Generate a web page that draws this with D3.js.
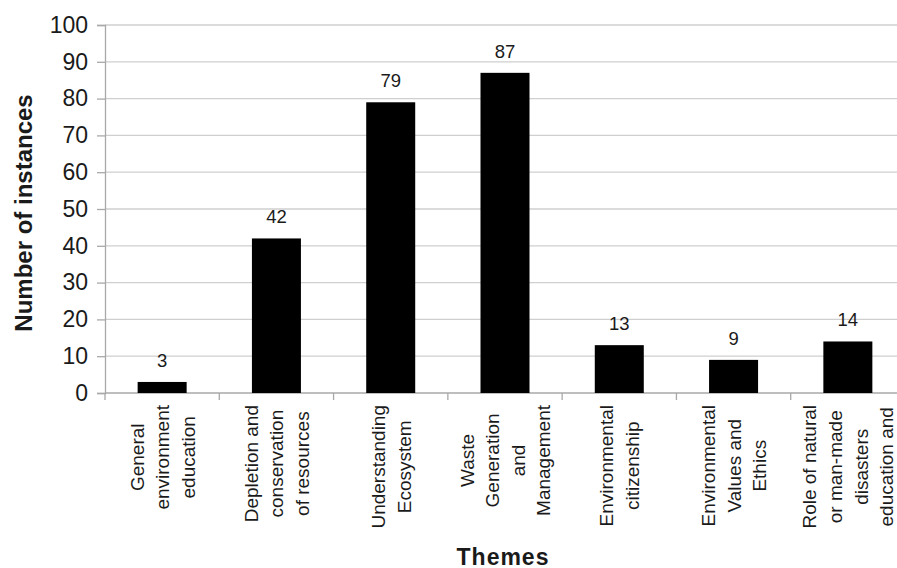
<!DOCTYPE html>
<html>
<head>
<meta charset="utf-8">
<script src="https://cdn.jsdelivr.net/npm/d3@7"></script>
<style>
  body { margin: 0; background: #fff; overflow: hidden; }
  text { font-family: Arial, "Liberation Sans", sans-serif; fill: #1a1a1a; }
</style>
</head>
<body>
<script>
// DATA
var themes = [
  ['General', 'environment', 'education'],
  ['Depletion and', 'conservation', 'of resources'],
  ['Understanding', 'Ecosystem'],
  ['Waste', 'Generation', 'and', 'Management'],
  ['Environmental', 'citizenship'],
  ['Environmental', 'Values and', 'Ethics'],
  ['Role of natural', 'or man-made', 'disasters', 'education and']
];
var instances = [3, 42, 79, 87, 13, 9, 14];
var yTicks = [0, 10, 20, 30, 40, 50, 60, 70, 80, 90, 100];

var svgWidth = 897, svgHeight = 568;
var plotLeft = 105, plotRight = 905, plotTop = 25, plotBottom = 393;

var svg = d3.select('body').append('svg')
  .attr('width', svgWidth)
  .attr('height', svgHeight);

var x = d3.scaleBand()
  .domain(d3.range(themes.length))
  .range([plotLeft, plotRight])
  .padding(0);
var y = d3.scaleLinear()
  .domain([0, 100])
  .range([plotBottom, plotTop]);

var barW = 49;

// gridlines
svg.selectAll('line.grid')
  .data(yTicks.slice(1))
  .enter()
  .append('line')
  .attr('class', 'grid')
  .attr('x1', plotLeft).attr('x2', svgWidth)
  .attr('y1', function(d) { return y(d); })
  .attr('y2', function(d) { return y(d); })
  .attr('stroke', '#cfcfcf')
  .attr('stroke-width', 1.3);

// y axis
var yAxis = svg.append('g')
  .attr('transform', 'translate(' + plotLeft + ',0)')
  .call(d3.axisLeft(y).tickValues(yTicks).tickSize(8).tickPadding(9));
yAxis.select('.domain').attr('stroke', '#a8a8a8').attr('stroke-width', 1.3);
yAxis.selectAll('.tick line').attr('stroke', '#a8a8a8').attr('stroke-width', 1.3);
yAxis.selectAll('.tick text')
  .style('font-size', '23px')
  .style('font-family', 'Arial, "Liberation Sans", sans-serif')
  .attr('fill', '#1a1a1a');

// x axis line and boundary ticks
svg.append('line')
  .attr('x1', plotLeft).attr('x2', svgWidth)
  .attr('y1', plotBottom).attr('y2', plotBottom)
  .attr('stroke', '#a8a8a8').attr('stroke-width', 1.3);
svg.selectAll('line.xtick')
  .data(d3.range(themes.length + 1))
  .enter()
  .append('line')
  .attr('class', 'xtick')
  .attr('x1', function(i) { return plotLeft + i * x.bandwidth(); })
  .attr('x2', function(i) { return plotLeft + i * x.bandwidth(); })
  .attr('y1', plotBottom).attr('y2', plotBottom + 7)
  .attr('stroke', '#a8a8a8').attr('stroke-width', 1.3);

// bars
svg.selectAll('rect.bar')
  .data(instances)
  .enter()
  .append('rect')
  .attr('class', 'bar')
  .attr('x', function(d, i) { return x(i) + x.bandwidth() / 2 - barW / 2; })
  .attr('y', function(d) { return y(d); })
  .attr('width', barW)
  .attr('height', function(d) { return plotBottom - y(d); })
  .attr('fill', '#000');

// value labels
svg.selectAll('text.val')
  .data(instances)
  .enter()
  .append('text')
  .attr('class', 'val')
  .attr('x', function(d, i) { return x(i) + x.bandwidth() / 2; })
  .attr('y', function(d) { return y(d) - 15; })
  .attr('text-anchor', 'middle')
  .style('font-size', '18.5px')
  .text(function(d) { return d; });

// category labels, rotated, lines centred on the band
var lineH = 25.6;
themes.forEach(function(lines, i) {
  var cx = x(i) + x.bandwidth() / 2;
  var g = svg.append('g');
  var t = g.append('text')
    .attr('text-anchor', 'middle')
    .style('font-size', '19px');
  lines.forEach(function(s, j) {
    t.append('tspan')
      .attr('x', 0)
      .attr('y', (j - (lines.length - 1) / 2) * lineH + 7)
      .text(s);
  });
  // longest line sets the block length; its end sits just under the axis
  var maxLen = d3.max(t.selectAll('tspan').nodes(), function(n) { return n.getComputedTextLength(); });
  var cy = 405 + maxLen / 2;
  g.attr('transform', 'translate(' + cx + ',' + cy + ') rotate(-90)');
});

// axis titles
svg.append('text')
  .attr('transform', 'translate(32,213) rotate(-90)')
  .attr('text-anchor', 'middle')
  .style('font-size', '24px')
  .style('font-weight', 'bold')
  .attr('fill', '#111')
  .text('Number of instances');

svg.append('text')
  .attr('x', 503)
  .attr('y', 565)
  .attr('text-anchor', 'middle')
  .style('font-size', '23px')
  .style('font-weight', 'bold')
  .style('letter-spacing', '1px')
  .attr('fill', '#111')
  .text('Themes');
</script>
</body>
</html>
